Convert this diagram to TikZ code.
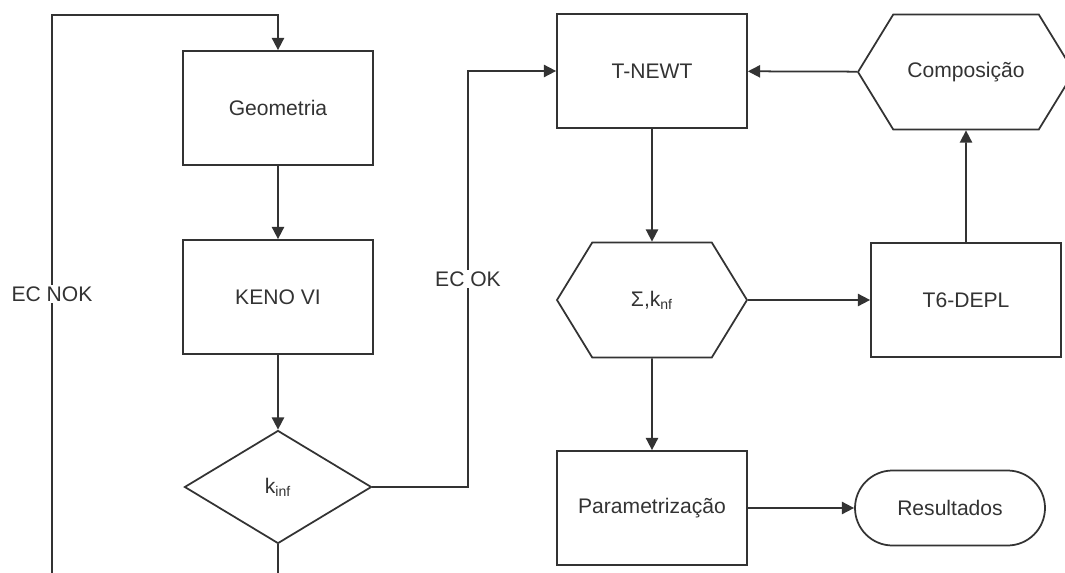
\documentclass[tikz,border=0pt]{standalone}
\usepackage{fontspec}
\setmainfont{Liberation Sans}
\usepackage{tikz}
\usetikzlibrary{shapes,arrows,arrows.meta}
\definecolor{ink}{HTML}{333333}
\tikzstyle{block} = [rectangle, draw=ink, text=ink, line width=1pt,
    minimum width=3.8cm, minimum height=2.28cm, text centered]
\tikzstyle{decision} = [diamond, draw=ink, text=ink, line width=1pt,
    minimum width=3.74cm, minimum height=2.26cm, inner sep=0pt]
\tikzstyle{prep} = [signal, signal to=west and east, signal pointer angle=117,
    draw=ink, text=ink, line width=1pt, minimum width=3.8cm, minimum height=2.3cm, inner sep=0pt]
\tikzstyle{term} = [rectangle, rounded corners=0.75cm, draw=ink, text=ink, line width=1pt,
    minimum width=3.8cm, minimum height=1.5cm]
\tikzstyle{line} = [draw=ink, line width=1pt, -{Triangle[length=7pt,width=7pt]}]
\tikzstyle{lbl} = [fill=white, text=ink, inner sep=1pt]

\begin{document}
\begin{tikzpicture}[node distance = 2cm, font=\fontsize{12}{14}\selectfont]
    \useasboundingbox (0,0) rectangle (21.3,-11.46);
    % Place nodes
    \node [block] (geo) at (5.56,-2.16) {Geometria};
    \node [block, below of=geo, node distance=3.78cm] (keno) {KENO VI};
    \node [decision, below of=keno, node distance=3.8cm] (kinf) {k\textsubscript{inf}};
    \node [block] (tnewt) at (13.04,-1.42) {T-NEWT};
    \node [prep, below of=tnewt, node distance=4.58cm] (sig) {Σ,k\textsubscript{nf}};
    \node [block, below of=sig, node distance=4.16cm] (param) {Parametrização};
    \node [block, right of=sig, node distance=6.28cm] (depl) {T6-DEPL};
    \node [prep, above of=depl, node distance=4.56cm, minimum width=4.32cm] (comp) {Composição};
    \node [term, right of=param, node distance=5.96cm] (res) {Resultados};
    \coordinate (loopb) at (1.04,-11.46);
    \coordinate (loopt) at (1.04,-0.3);
    \coordinate (okt) at (9.36,-1.42);
    % Draw edges
    \path [line] (geo)        -- (keno);
    \path [line] (keno)       -- (kinf);
    \path [draw=ink, line width=1pt] (kinf.south) -- (kinf.south |- loopb);
    \path [line] (loopb)      -- node [lbl] {EC NOK} (loopt) -| (geo.north);
    \path [line] (kinf.east)  -| node [lbl, pos=0.75] {EC OK} (okt) -- (tnewt);
    \path [line] (comp)       -- (tnewt);
    \path [line] (tnewt)      -- (sig);
    \path [line] (sig)        -- (depl);
    \path [line] (depl)       -- (comp);
    \path [line] (sig)        -- (param);
    \path [line] (param)      -- (res);
\end{tikzpicture}
\end{document}
